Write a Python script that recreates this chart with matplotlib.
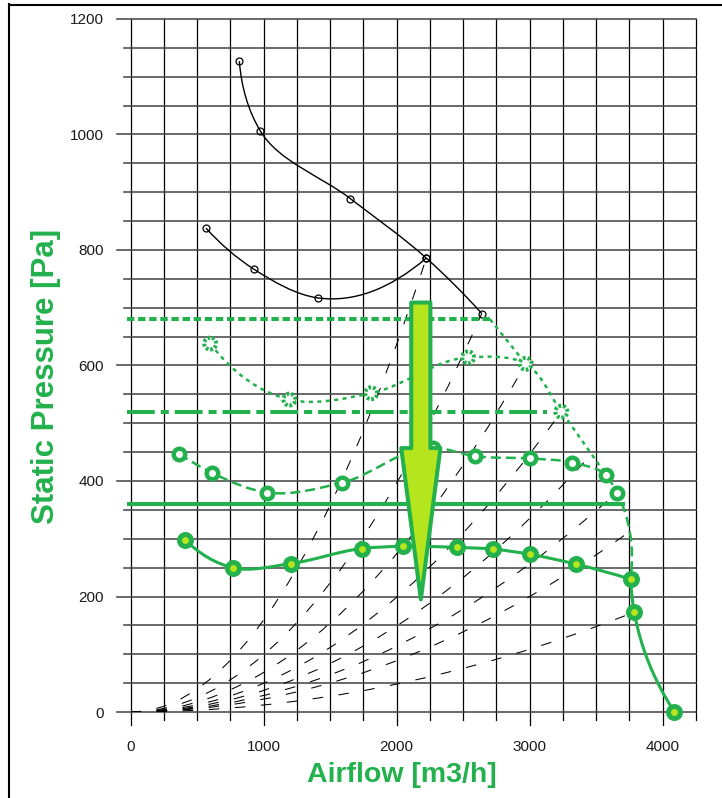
import numpy as np
import matplotlib
matplotlib.use("Agg")
import matplotlib.pyplot as plt
from matplotlib.path import Path
from matplotlib.patches import PathPatch, Polygon
from matplotlib.lines import Line2D

plt.rcParams['font.family'] = ['Liberation Sans', 'DejaVu Sans']
plt.rcParams['lines.scale_dashes'] = False

GREEN = '#22b14c'
LIME = '#b5e61d'

# black fan curves (airflow m3/h, static pressure Pa)
top_q = [818, 976, 1652, 2223, 2640]
top_p = [1127, 1006, 889, 786, 690]
low_q = [567, 926, 1409, 2223]
low_p = [838, 767, 717, 786]

# green curve 1 (dotted), runs on to the curve 2 point without a marker
c1_q = [599, 1194, 1809, 2537, 2970, 3238]
c1_p = [638, 541, 552, 614, 603, 520]
c1_tail_q = [3574]
c1_tail_p = [410]

# green curve 2 (dashed), runs on down to the curve 3 point
c2_q = [366, 614, 1028, 1590, 2277, 2589, 3003, 3318, 3574, 3654]
c2_p = [447, 414, 380, 397, 458, 443, 439, 432, 410, 380]
c2_tail_q = [3758]
c2_tail_p = [230]

# green curve 3 (solid), with a corner at the knee point
c3_q = [411, 767, 1206, 1737, 2050, 2455, 2728, 3004, 3348, 3758, 3786, 4088]
c3_p = [298, 250, 257, 283, 287, 285, 282, 273, 256, 230, 173, 0]
c3_knee = 9

# horizontal limit lines
lim_p = [680, 520, 360]
lim_end = [2702, 3128, 3717]
lim_start = -25
# dotted link from the top limit line to curve 1
link_q = [2702, 2970]
link_p = [680, 603]

# system curves: parabolas from the origin to these end points
sys_q = [2223, 2640, 2970, 3238, 3470, 3654, 3725, 3786]
sys_p = [786, 690, 603, 520, 448, 380, 308, 173]

# big arrow
arrow_q = 2182
arrow_top, arrow_neck, arrow_tip = 709, 457, 195
arrow_shaft, arrow_head = 72, 147

x_ticks = [0, 1000, 2000, 3000, 4000]
y_ticks = [0, 200, 400, 600, 800, 1000, 1200]

# pixels per data unit, used to shape the curves like on screen
SX, SY = 0.13305, 0.5775


def smooth_path(xs, ys):
    # cubic bezier through the points, tangents from chord lengths on screen
    pts = np.column_stack([np.asarray(xs) * SX, np.asarray(ys) * SY]).astype(float)
    n = len(pts)
    seg = np.diff(pts, axis=0)
    d = np.hypot(seg[:, 0], seg[:, 1])
    u = seg / d[:, None]
    m = np.zeros_like(pts)
    for i in range(1, n - 1):
        m[i] = (d[i] * u[i - 1] + d[i - 1] * u[i]) / (d[i - 1] + d[i])
    if n > 2:
        m[0] = 2 * u[0] - m[1]
        m[-1] = 2 * u[-1] - m[-2]
    else:
        m[0] = m[-1] = u[0]
    verts = [pts[0]]
    codes = [Path.MOVETO]
    for i in range(n - 1):
        verts += [pts[i] + m[i] * d[i] / 3, pts[i + 1] - m[i + 1] * d[i] / 3, pts[i + 1]]
        codes += [Path.CURVE4] * 3
    verts = np.array(verts) / [SX, SY]
    return Path(verts, codes)


fig = plt.figure(figsize=(7.22, 7.98), dpi=100)
ax = fig.add_axes([130.5 / 722, (798 - 712) / 798, 565.5 / 722, 693 / 798])
ax.set_xlim(0, 4250)
ax.set_ylim(0, 1200)
for s in ax.spines.values():
    s.set_visible(False)

# grid with tick stubs outside the plot
for q in range(0, 4251, 250):
    bottom = -22 if q % 1000 == 0 else -14
    ax.plot([q, q], [bottom, 1200], color='black', lw=0.9, clip_on=False, zorder=1)
for p in range(0, 1201, 50):
    left = -104 if p % 200 == 0 else -49
    ax.plot([left, 4250], [p, p], color='#484848', lw=1.15, clip_on=False, zorder=1)

ax.set_xticks(x_ticks)
ax.set_yticks(y_ticks)
ax.tick_params(length=0, labelsize=11, labelcolor='#1a1a1a')
ax.tick_params(axis='x', pad=20)
ax.tick_params(axis='y', pad=19)

# system curves
for q, p in zip(sys_q, sys_p):
    path = Path([(0, 0), (q / 2, 0), (q, p)], [Path.MOVETO, Path.CURVE3, Path.CURVE3])
    ax.add_patch(PathPatch(path, fill=False, ec='black', lw=0.75,
                           ls=(0, (7.6, 11.2)), zorder=2))

# black curves
for qs, ps in [(top_q, top_p), (low_q, low_p)]:
    ax.add_patch(PathPatch(smooth_path(qs, ps), fill=False, ec='black', lw=1.0, zorder=3))
    ax.plot(qs, ps, 'o', mfc='none', mec='black', ms=5, mew=0.9, zorder=4)

# limit lines
styles = [(0, (5.3, 2.7)), (0, (20, 4.3, 5.8, 4.3)), '-']
for p, end, ls in zip(lim_p, lim_end, styles):
    ax.plot([lim_start, end], [p, p], color=GREEN, lw=2.9, ls=ls,
            solid_capstyle='butt', dash_capstyle='butt', clip_on=False, zorder=5)
ax.plot(link_q, link_p, color=GREEN, lw=1.8, ls=(0, (2.9, 3.2)), zorder=5)

# curve 1
ax.add_patch(PathPatch(smooth_path(c1_q + c1_tail_q, c1_p + c1_tail_p), fill=False,
                       ec=GREEN, lw=1.8, ls=(0, (2.9, 3.2)), zorder=5))
ax.scatter(c1_q, c1_p, s=74, facecolors='white', edgecolors=GREEN, linewidths=2.9,
           linestyles=(0, (2.0, 1.4)), zorder=6)

# curve 2
ax.add_patch(PathPatch(smooth_path(c2_q + c2_tail_q, c2_p + c2_tail_p), fill=False,
                       ec=GREEN, lw=1.8, ls=(0, (7.2, 3.6)), zorder=5))
ax.plot(c2_q, c2_p, 'o', ls='none', mfc='white', mec=GREEN, ms=8.3, mew=3.2, zorder=6)

# curve 3
for part in [slice(0, c3_knee + 1), slice(c3_knee, None)]:
    ax.add_patch(PathPatch(smooth_path(c3_q[part], c3_p[part]), fill=False, ec=GREEN,
                           lw=2.2, zorder=5))
ax.plot(c3_q, c3_p, 'o', ls='none', mfc=LIME, mec=GREEN, ms=8.6, mew=3.6, zorder=6,
        clip_on=False)

# arrow
arrow = Polygon([(arrow_q - arrow_shaft, arrow_top), (arrow_q + arrow_shaft, arrow_top),
                 (arrow_q + arrow_shaft, arrow_neck), (arrow_q + arrow_head, arrow_neck),
                 (arrow_q, arrow_tip), (arrow_q - arrow_head, arrow_neck),
                 (arrow_q - arrow_shaft, arrow_neck)],
                closed=True, fc=LIME, ec=GREEN, lw=2.9, joinstyle='round', zorder=10)
ax.add_patch(arrow)

fig.text(402 / 722, 1 - 782 / 798, 'Airflow [m3/h]', ha='center', va='baseline',
         fontsize=20.5, weight='bold', color=GREEN)
fig.text(46 / 722, 1 - 376 / 798, 'Static Pressure [Pa]', rotation=90, ha='center',
         va='center', fontsize=22.5, weight='bold', color=GREEN)

# frame of the picture
fig.add_artist(Line2D([8.5 / 722, 8.5 / 722], [0, 1 - 4 / 798], transform=fig.transFigure,
                      color='black', lw=1.5))
fig.add_artist(Line2D([8.5 / 722, 1], [1 - 4.5 / 798, 1 - 4.5 / 798], transform=fig.transFigure,
                      color='black', lw=1.5))

fig.savefig('out.png', dpi=100)
